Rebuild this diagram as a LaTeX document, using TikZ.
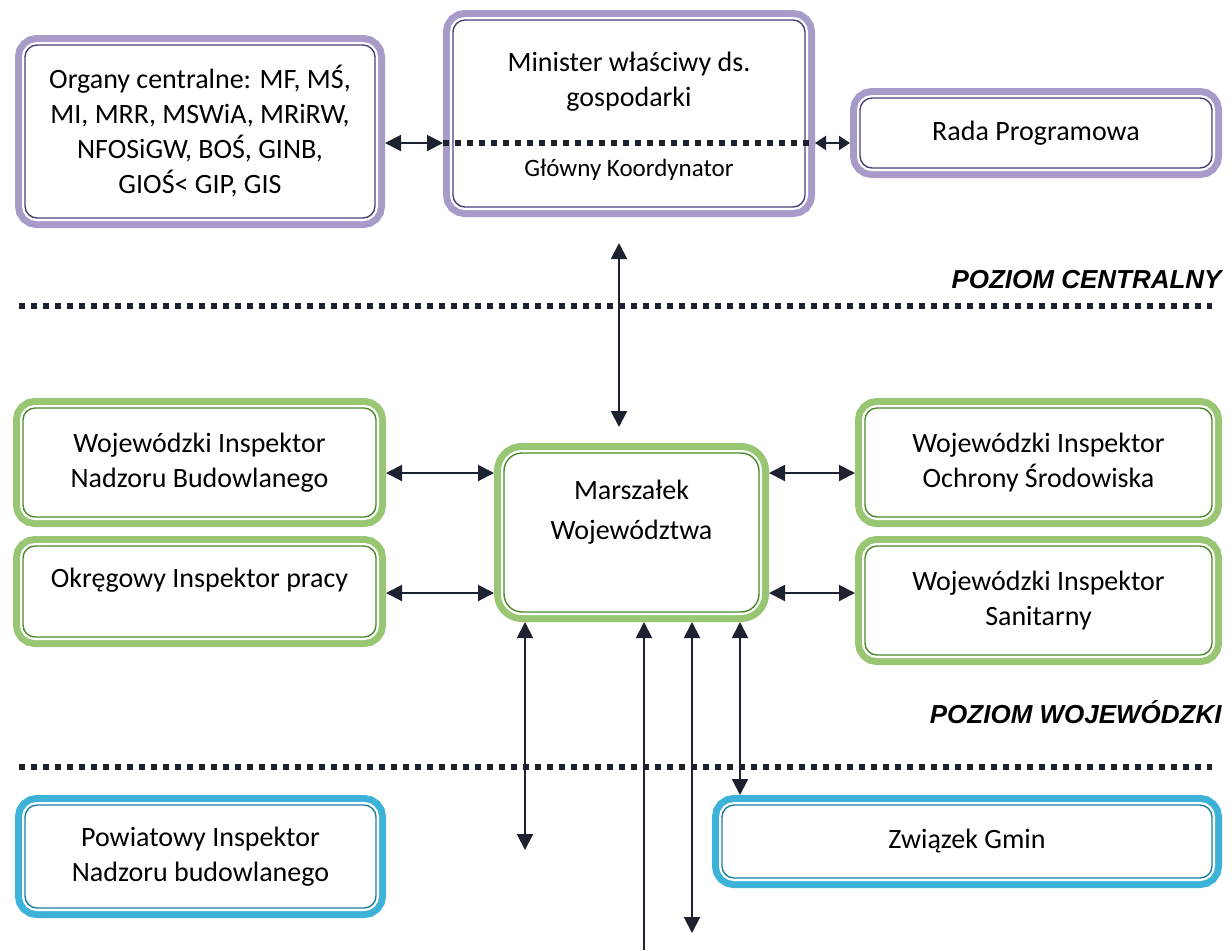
\documentclass[tikz,border=0pt]{standalone}
\usepackage{fontspec}
\setmainfont{Carlito}
\newfontfamily\levelfont{Liberation Sans}
\usetikzlibrary{arrows.meta,positioning}

\definecolor{purpleband}{HTML}{A89BC9}
\definecolor{purpleline}{HTML}{4A3F7A}
\definecolor{greenband}{HTML}{98C672}
\definecolor{greenline}{HTML}{4A8A28}
\definecolor{blueband}{HTML}{3DB2D8}
\definecolor{blueline}{HTML}{1A7EA5}
\definecolor{inkdark}{HTML}{1E2230}

\begin{document}
\begin{tikzpicture}[
    x=0.5pt, y=-0.5pt,
    >={Triangle[length=8pt,width=8pt]},
    frame/.style 2 args={rectangle, rounded corners=6pt, draw=#2, line width=0.7pt, fill=white,
        preaction={draw=#1, line width=10pt},
        preaction={draw=white, line width=3pt},
        outer sep=5pt, inner sep=0pt, align=center,
        font=\fontsize{14}{17.5}\selectfont},
    pbox/.style={frame={purpleband}{purpleline}},
    gbox/.style={frame={greenband}{greenline}},
    bbox/.style={frame={blueband}{blueline}},
    txt/.style={align=center, inner sep=0pt, font=\fontsize{14}{17.5}\selectfont},
    level/.style={anchor=east, inner sep=0pt, font=\levelfont\bfseries\itshape\fontsize{13}{15}\selectfont},
    sep/.style={draw=inkdark, line width=2.9pt, dash pattern=on 2.9pt off 3.1pt},
    arrow/.style={<->, draw=inkdark, line width=1pt},
    shortarrow/.style={{Triangle[length=5.5pt,width=7pt]}-{Triangle[length=5.5pt,width=7pt]}, draw=inkdark, line width=1pt},
    oneway/.style={->, draw=inkdark, line width=1pt}
]
\useasboundingbox (0,0) rectangle (1232,950);

% poziom centralny
\node[pbox, minimum width=175pt, minimum height=86.5pt] (org) at (200,131.5) {Organy centralne: MF, MŚ,\\MI, MRR, MSWiA, MRiRW,\\NFOSiGW, BOŚ, GINB,\\GIOŚ< GIP, GIS};
\node[pbox, minimum width=176pt, minimum height=93.5pt] (min) at (629,113.5) {};
\node[txt] (minT) at (629,81.5) {Minister właściwy ds.\\gospodarki};
\node[txt, font=\fontsize{12.5}{15}\selectfont] (gk) at (629,170) {Główny Koordynator};
\node[pbox, minimum width=176pt, minimum height=35pt] (rada) at (1036,133) {Rada Programowa};

\coordinate (kline) at (0,143);
\draw[sep] (min.west |- kline) -- (min.east |- kline);
\draw[arrow] (org.east |- kline) -- (min.west |- kline);
\draw[shortarrow] (min.east |- kline) -- (rada.west |- kline);

\node[level] (lc) at (1222,280) {POZIOM CENTRALNY};
\draw[sep] (19,306) -- (1212,306);

% poziom wojewodzki
\node[gbox, minimum width=176.5pt, minimum height=54.5pt] (winb) at (199.5,462.5) {Wojewódzki Inspektor\\Nadzoru Budowlanego};
\node[gbox, minimum width=176.5pt, minimum height=45.5pt, below=4.5pt of winb] (okr) {};
\node[txt] (okrT) at ([yshift=5.75pt]okr.center) {Okręgowy Inspektor pracy};
\node[gbox, rounded corners=9pt, minimum width=127.5pt, minimum height=79.5pt] (marsz) at (631.5,532.5) {};
\node[txt, font=\fontsize{14}{20}\selectfont] (marszT) at ([yshift=10pt]marsz.center) {Marszałek\\Województwa};
\node[gbox, minimum width=173.5pt, minimum height=54.5pt] (wios) at (1038.5,462.5) {Wojewódzki Inspektor\\Ochrony Środowiska};
\node[gbox, minimum width=173.5pt, minimum height=54.5pt, below=4.5pt of wios] (wis) {Wojewódzki Inspektor\\Sanitarny};

\draw[arrow, shorten <=13pt, shorten >=8pt] ([xshift=-5pt]min.south) -- ([xshift=-6.25pt]marsz.north);

\coordinate (rowA) at (0,473);
\coordinate (rowB) at (0,593);
\draw[arrow] (winb.east |- rowA) -- (marsz.west |- rowA);
\draw[arrow] (okr.east |- rowB) -- (marsz.west |- rowB);
\draw[arrow] (marsz.east |- rowA) -- (wios.west |- rowA);
\draw[arrow] (marsz.east |- rowB) -- (wis.west |- rowB);

\node[level] (lw) at (1222,712) {POZIOM WOJEWÓDZKI};
\draw[sep] (19,767) -- (1212,767);

% poziom powiatowy
\node[bbox, minimum width=175.5pt, minimum height=51.5pt] (pow) at (200.5,856.5) {Powiatowy Inspektor\\Nadzoru budowlanego};
\node[bbox, minimum width=245pt, minimum height=36.5pt] (zg) at (967,841.5) {Związek Gmin};

\coordinate (d1) at (525,850);
\coordinate (d2) at (644,950);
\coordinate (d3) at (692,933);
\coordinate (d4) at (740,0);
\draw[arrow] (marsz.south -| d1) -- (d1);
\draw[oneway] (d2) -- (marsz.south -| d2);
\draw[arrow] (marsz.south -| d3) -- (d3);
\draw[arrow] (marsz.south -| d4) -- (zg.north -| d4);
\end{tikzpicture}
\end{document}
